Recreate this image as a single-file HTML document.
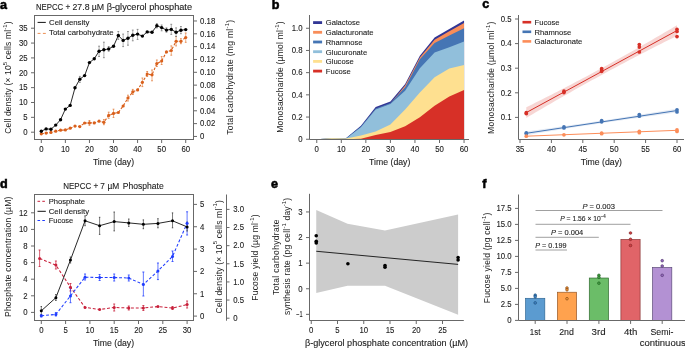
<!DOCTYPE html>
<html><head><meta charset="utf-8"><style>
html,body{margin:0;padding:0;background:#fff;width:685px;height:348px;overflow:hidden}
svg{display:block;will-change:transform}
text{font-family:"Liberation Sans",sans-serif;fill:#1c1c1c;stroke:#1c1c1c;stroke-width:0.1px}
text.pl{fill:#000;stroke:#000;stroke-width:0.55px}
text.vl{stroke:none}
</style></head><body>
<svg width="685" height="348" viewBox="0 0 685 348">
<rect width="685" height="348" fill="#fff"/>
<text x="-0.10" y="8.80" font-size="12.6" font-weight="bold" fill="#000" class="pl">a</text>
<text x="49.55" y="9.70" font-size="8.2" text-anchor="middle" textLength="27.30" lengthAdjust="spacingAndGlyphs">NEPCC</text>
<text x="68.00" y="9.70" font-size="8.2" text-anchor="middle">+</text>
<text x="81.00" y="9.70" font-size="8.2" text-anchor="middle" textLength="17.00" lengthAdjust="spacingAndGlyphs">27.8</text>
<text x="97.90" y="9.70" font-size="8.2" text-anchor="middle" textLength="12.40" lengthAdjust="spacingAndGlyphs">µM</text>
<text x="149.35" y="9.70" font-size="8.2" text-anchor="middle" textLength="85.30" lengthAdjust="spacingAndGlyphs">β-glycerol phosphate</text>
<rect x="34.5" y="15.5" width="159.0" height="124.0" fill="none" stroke="#686868" stroke-width="1.0"/>
<line x1="31.00" y1="132.20" x2="34.50" y2="132.20" stroke="#686868" stroke-width="1.0"/>
<text x="27.60" y="135.01" font-size="8.2" text-anchor="end" textLength="4.34" lengthAdjust="spacingAndGlyphs">0</text>
<line x1="31.00" y1="117.34" x2="34.50" y2="117.34" stroke="#686868" stroke-width="1.0"/>
<text x="27.60" y="120.15" font-size="8.2" text-anchor="end" textLength="4.34" lengthAdjust="spacingAndGlyphs">5</text>
<line x1="31.00" y1="102.49" x2="34.50" y2="102.49" stroke="#686868" stroke-width="1.0"/>
<text x="27.60" y="105.30" font-size="8.2" text-anchor="end" textLength="8.68" lengthAdjust="spacingAndGlyphs">10</text>
<line x1="31.00" y1="87.63" x2="34.50" y2="87.63" stroke="#686868" stroke-width="1.0"/>
<text x="27.60" y="90.44" font-size="8.2" text-anchor="end" textLength="8.68" lengthAdjust="spacingAndGlyphs">15</text>
<line x1="31.00" y1="72.78" x2="34.50" y2="72.78" stroke="#686868" stroke-width="1.0"/>
<text x="27.60" y="75.59" font-size="8.2" text-anchor="end" textLength="8.68" lengthAdjust="spacingAndGlyphs">20</text>
<line x1="31.00" y1="57.92" x2="34.50" y2="57.92" stroke="#686868" stroke-width="1.0"/>
<text x="27.60" y="60.73" font-size="8.2" text-anchor="end" textLength="8.68" lengthAdjust="spacingAndGlyphs">25</text>
<line x1="31.00" y1="43.07" x2="34.50" y2="43.07" stroke="#686868" stroke-width="1.0"/>
<text x="27.60" y="45.88" font-size="8.2" text-anchor="end" textLength="8.68" lengthAdjust="spacingAndGlyphs">30</text>
<line x1="31.00" y1="28.21" x2="34.50" y2="28.21" stroke="#686868" stroke-width="1.0"/>
<text x="27.60" y="31.02" font-size="8.2" text-anchor="end" textLength="8.68" lengthAdjust="spacingAndGlyphs">35</text>
<line x1="193.50" y1="136.45" x2="197.00" y2="136.45" stroke="#686868" stroke-width="1.0"/>
<text x="200.10" y="139.26" font-size="8.2" textLength="4.34" lengthAdjust="spacingAndGlyphs">0</text>
<line x1="193.50" y1="123.62" x2="197.00" y2="123.62" stroke="#686868" stroke-width="1.0"/>
<text x="200.10" y="126.43" font-size="8.2" textLength="15.18" lengthAdjust="spacingAndGlyphs">0.02</text>
<line x1="193.50" y1="110.79" x2="197.00" y2="110.79" stroke="#686868" stroke-width="1.0"/>
<text x="200.10" y="113.60" font-size="8.2" textLength="15.18" lengthAdjust="spacingAndGlyphs">0.04</text>
<line x1="193.50" y1="97.96" x2="197.00" y2="97.96" stroke="#686868" stroke-width="1.0"/>
<text x="200.10" y="100.77" font-size="8.2" textLength="15.18" lengthAdjust="spacingAndGlyphs">0.06</text>
<line x1="193.50" y1="85.13" x2="197.00" y2="85.13" stroke="#686868" stroke-width="1.0"/>
<text x="200.10" y="87.94" font-size="8.2" textLength="15.18" lengthAdjust="spacingAndGlyphs">0.08</text>
<line x1="193.50" y1="72.30" x2="197.00" y2="72.30" stroke="#686868" stroke-width="1.0"/>
<text x="200.10" y="75.11" font-size="8.2" textLength="15.18" lengthAdjust="spacingAndGlyphs">0.10</text>
<line x1="193.50" y1="59.47" x2="197.00" y2="59.47" stroke="#686868" stroke-width="1.0"/>
<text x="200.10" y="62.28" font-size="8.2" textLength="15.18" lengthAdjust="spacingAndGlyphs">0.12</text>
<line x1="193.50" y1="46.64" x2="197.00" y2="46.64" stroke="#686868" stroke-width="1.0"/>
<text x="200.10" y="49.45" font-size="8.2" textLength="15.18" lengthAdjust="spacingAndGlyphs">0.14</text>
<line x1="193.50" y1="33.81" x2="197.00" y2="33.81" stroke="#686868" stroke-width="1.0"/>
<text x="200.10" y="36.62" font-size="8.2" textLength="15.18" lengthAdjust="spacingAndGlyphs">0.16</text>
<line x1="193.50" y1="20.98" x2="197.00" y2="20.98" stroke="#686868" stroke-width="1.0"/>
<text x="200.10" y="23.79" font-size="8.2" textLength="15.18" lengthAdjust="spacingAndGlyphs">0.18</text>
<line x1="41.30" y1="139.50" x2="41.30" y2="143.00" stroke="#686868" stroke-width="1.0"/>
<text x="41.30" y="151.80" font-size="8.2" text-anchor="middle" textLength="4.34" lengthAdjust="spacingAndGlyphs">0</text>
<line x1="65.37" y1="139.50" x2="65.37" y2="143.00" stroke="#686868" stroke-width="1.0"/>
<text x="65.37" y="151.80" font-size="8.2" text-anchor="middle" textLength="8.68" lengthAdjust="spacingAndGlyphs">10</text>
<line x1="89.44" y1="139.50" x2="89.44" y2="143.00" stroke="#686868" stroke-width="1.0"/>
<text x="89.44" y="151.80" font-size="8.2" text-anchor="middle" textLength="8.68" lengthAdjust="spacingAndGlyphs">20</text>
<line x1="113.51" y1="139.50" x2="113.51" y2="143.00" stroke="#686868" stroke-width="1.0"/>
<text x="113.51" y="151.80" font-size="8.2" text-anchor="middle" textLength="8.68" lengthAdjust="spacingAndGlyphs">30</text>
<line x1="137.58" y1="139.50" x2="137.58" y2="143.00" stroke="#686868" stroke-width="1.0"/>
<text x="137.58" y="151.80" font-size="8.2" text-anchor="middle" textLength="8.68" lengthAdjust="spacingAndGlyphs">40</text>
<line x1="161.65" y1="139.50" x2="161.65" y2="143.00" stroke="#686868" stroke-width="1.0"/>
<text x="161.65" y="151.80" font-size="8.2" text-anchor="middle" textLength="8.68" lengthAdjust="spacingAndGlyphs">50</text>
<line x1="185.72" y1="139.50" x2="185.72" y2="143.00" stroke="#686868" stroke-width="1.0"/>
<text x="185.72" y="151.80" font-size="8.2" text-anchor="middle" textLength="8.68" lengthAdjust="spacingAndGlyphs">60</text>
<text x="113.50" y="164.60" font-size="8.5" text-anchor="middle" textLength="41.20" lengthAdjust="spacingAndGlyphs">Time (day)</text>
<text x="11.5" y="77.6" font-size="8.5" text-anchor="middle" class="vl" transform="rotate(-90 11.5 77.6)" textLength="112.3" lengthAdjust="spacing">Cell density (× 10<tspan font-size="6" dy="-4.2">5</tspan><tspan dy="4.2"> cells ml</tspan><tspan font-size="5.8" dy="-4.2">-1</tspan><tspan dy="4.2">)</tspan></text>
<text x="233.4" y="77.25" font-size="8.5" text-anchor="middle" class="vl" transform="rotate(-90 233.4 77.25)" textLength="114.9" lengthAdjust="spacing">Total carbohydrate (mg ml<tspan font-size="5.8" dy="-4.2">-1</tspan><tspan dy="4.2">)</tspan></text>
<line x1="37.60" y1="22.40" x2="45.80" y2="22.40" stroke="#111" stroke-width="1.0"/>
<text x="49.00" y="24.70" font-size="7.5" textLength="40.30" lengthAdjust="spacingAndGlyphs">Cell density</text>
<line x1="37.60" y1="33.40" x2="45.80" y2="33.40" stroke="#ec8e52" stroke-width="1.0" stroke-dasharray="2.9 2.4"/>
<text x="49.00" y="34.90" font-size="7.5" textLength="64.50" lengthAdjust="spacingAndGlyphs">Total carbohydrate</text>
<line x1="89.44" y1="120.50" x2="89.44" y2="125.30" stroke="#eb9a66" stroke-width="0.8"/>
<line x1="88.54" y1="120.50" x2="90.34" y2="120.50" stroke="#e07a3a" stroke-width="0.8"/>
<line x1="88.54" y1="125.30" x2="90.34" y2="125.30" stroke="#e07a3a" stroke-width="0.8"/>
<line x1="103.88" y1="119.60" x2="103.88" y2="124.70" stroke="#eb9a66" stroke-width="0.8"/>
<line x1="102.98" y1="119.60" x2="104.78" y2="119.60" stroke="#e07a3a" stroke-width="0.8"/>
<line x1="102.98" y1="124.70" x2="104.78" y2="124.70" stroke="#e07a3a" stroke-width="0.8"/>
<line x1="108.70" y1="112.20" x2="108.70" y2="118.30" stroke="#eb9a66" stroke-width="0.8"/>
<line x1="107.80" y1="112.20" x2="109.60" y2="112.20" stroke="#e07a3a" stroke-width="0.8"/>
<line x1="107.80" y1="118.30" x2="109.60" y2="118.30" stroke="#e07a3a" stroke-width="0.8"/>
<line x1="113.51" y1="109.20" x2="113.51" y2="117.40" stroke="#eb9a66" stroke-width="0.8"/>
<line x1="112.61" y1="109.20" x2="114.41" y2="109.20" stroke="#e07a3a" stroke-width="0.8"/>
<line x1="112.61" y1="117.40" x2="114.41" y2="117.40" stroke="#e07a3a" stroke-width="0.8"/>
<line x1="127.95" y1="95.20" x2="127.95" y2="101.00" stroke="#eb9a66" stroke-width="0.8"/>
<line x1="127.05" y1="95.20" x2="128.85" y2="95.20" stroke="#e07a3a" stroke-width="0.8"/>
<line x1="127.05" y1="101.00" x2="128.85" y2="101.00" stroke="#e07a3a" stroke-width="0.8"/>
<line x1="132.77" y1="89.40" x2="132.77" y2="94.50" stroke="#eb9a66" stroke-width="0.8"/>
<line x1="131.87" y1="89.40" x2="133.67" y2="89.40" stroke="#e07a3a" stroke-width="0.8"/>
<line x1="131.87" y1="94.50" x2="133.67" y2="94.50" stroke="#e07a3a" stroke-width="0.8"/>
<line x1="142.39" y1="78.00" x2="142.39" y2="86.60" stroke="#eb9a66" stroke-width="0.8"/>
<line x1="141.49" y1="78.00" x2="143.29" y2="78.00" stroke="#e07a3a" stroke-width="0.8"/>
<line x1="141.49" y1="86.60" x2="143.29" y2="86.60" stroke="#e07a3a" stroke-width="0.8"/>
<line x1="147.21" y1="71.50" x2="147.21" y2="76.50" stroke="#eb9a66" stroke-width="0.8"/>
<line x1="146.31" y1="71.50" x2="148.11" y2="71.50" stroke="#e07a3a" stroke-width="0.8"/>
<line x1="146.31" y1="76.50" x2="148.11" y2="76.50" stroke="#e07a3a" stroke-width="0.8"/>
<line x1="152.02" y1="70.00" x2="152.02" y2="80.80" stroke="#eb9a66" stroke-width="0.8"/>
<line x1="151.12" y1="70.00" x2="152.92" y2="70.00" stroke="#e07a3a" stroke-width="0.8"/>
<line x1="151.12" y1="80.80" x2="152.92" y2="80.80" stroke="#e07a3a" stroke-width="0.8"/>
<line x1="156.84" y1="60.00" x2="156.84" y2="66.50" stroke="#eb9a66" stroke-width="0.8"/>
<line x1="155.94" y1="60.00" x2="157.74" y2="60.00" stroke="#e07a3a" stroke-width="0.8"/>
<line x1="155.94" y1="66.50" x2="157.74" y2="66.50" stroke="#e07a3a" stroke-width="0.8"/>
<line x1="161.65" y1="56.60" x2="161.65" y2="64.50" stroke="#eb9a66" stroke-width="0.8"/>
<line x1="160.75" y1="56.60" x2="162.55" y2="56.60" stroke="#e07a3a" stroke-width="0.8"/>
<line x1="160.75" y1="64.50" x2="162.55" y2="64.50" stroke="#e07a3a" stroke-width="0.8"/>
<line x1="171.28" y1="45.90" x2="171.28" y2="55.20" stroke="#eb9a66" stroke-width="0.8"/>
<line x1="170.38" y1="45.90" x2="172.18" y2="45.90" stroke="#e07a3a" stroke-width="0.8"/>
<line x1="170.38" y1="55.20" x2="172.18" y2="55.20" stroke="#e07a3a" stroke-width="0.8"/>
<line x1="176.09" y1="36.50" x2="176.09" y2="45.90" stroke="#eb9a66" stroke-width="0.8"/>
<line x1="175.19" y1="36.50" x2="176.99" y2="36.50" stroke="#e07a3a" stroke-width="0.8"/>
<line x1="175.19" y1="45.90" x2="176.99" y2="45.90" stroke="#e07a3a" stroke-width="0.8"/>
<line x1="180.91" y1="38.70" x2="180.91" y2="43.70" stroke="#eb9a66" stroke-width="0.8"/>
<line x1="180.01" y1="38.70" x2="181.81" y2="38.70" stroke="#e07a3a" stroke-width="0.8"/>
<line x1="180.01" y1="43.70" x2="181.81" y2="43.70" stroke="#e07a3a" stroke-width="0.8"/>
<line x1="185.72" y1="33.00" x2="185.72" y2="42.30" stroke="#eb9a66" stroke-width="0.8"/>
<line x1="184.82" y1="33.00" x2="186.62" y2="33.00" stroke="#e07a3a" stroke-width="0.8"/>
<line x1="184.82" y1="42.30" x2="186.62" y2="42.30" stroke="#e07a3a" stroke-width="0.8"/>
<polyline points="41.30,133.80 46.11,133.10 50.93,132.40 55.74,131.20 60.56,130.20 65.37,129.90 70.18,128.20 75.00,126.10 79.81,126.60 84.63,123.00 89.44,122.90 94.25,122.90 99.07,121.20 103.88,122.30 108.70,115.40 113.51,113.40 118.32,112.50 123.14,106.00 127.95,98.00 132.77,91.90 137.58,89.90 142.39,82.30 147.21,74.10 152.02,74.80 156.84,63.60 161.65,61.00 166.46,51.90 171.28,50.50 176.09,41.30 180.91,41.30 185.72,37.50" fill="none" stroke="#d9601c" stroke-width="1.1" stroke-dasharray="2.6 1.6"/>
<circle cx="41.30" cy="133.80" r="1.6" fill="#d9601c"/>
<circle cx="46.11" cy="133.10" r="1.6" fill="#d9601c"/>
<circle cx="50.93" cy="132.40" r="1.6" fill="#d9601c"/>
<circle cx="55.74" cy="131.20" r="1.6" fill="#d9601c"/>
<circle cx="60.56" cy="130.20" r="1.6" fill="#d9601c"/>
<circle cx="65.37" cy="129.90" r="1.6" fill="#d9601c"/>
<circle cx="70.18" cy="128.20" r="1.6" fill="#d9601c"/>
<circle cx="75.00" cy="126.10" r="1.6" fill="#d9601c"/>
<circle cx="79.81" cy="126.60" r="1.6" fill="#d9601c"/>
<circle cx="84.63" cy="123.00" r="1.6" fill="#d9601c"/>
<circle cx="89.44" cy="122.90" r="1.6" fill="#d9601c"/>
<circle cx="94.25" cy="122.90" r="1.6" fill="#d9601c"/>
<circle cx="99.07" cy="121.20" r="1.6" fill="#d9601c"/>
<circle cx="103.88" cy="122.30" r="1.6" fill="#d9601c"/>
<circle cx="108.70" cy="115.40" r="1.6" fill="#d9601c"/>
<circle cx="113.51" cy="113.40" r="1.6" fill="#d9601c"/>
<circle cx="118.32" cy="112.50" r="1.6" fill="#d9601c"/>
<circle cx="123.14" cy="106.00" r="1.6" fill="#d9601c"/>
<circle cx="127.95" cy="98.00" r="1.6" fill="#d9601c"/>
<circle cx="132.77" cy="91.90" r="1.6" fill="#d9601c"/>
<circle cx="137.58" cy="89.90" r="1.6" fill="#d9601c"/>
<circle cx="142.39" cy="82.30" r="1.6" fill="#d9601c"/>
<circle cx="147.21" cy="74.10" r="1.6" fill="#d9601c"/>
<circle cx="152.02" cy="74.80" r="1.6" fill="#d9601c"/>
<circle cx="156.84" cy="63.60" r="1.6" fill="#d9601c"/>
<circle cx="161.65" cy="61.00" r="1.6" fill="#d9601c"/>
<circle cx="166.46" cy="51.90" r="1.6" fill="#d9601c"/>
<circle cx="171.28" cy="50.50" r="1.6" fill="#d9601c"/>
<circle cx="176.09" cy="41.30" r="1.6" fill="#d9601c"/>
<circle cx="180.91" cy="41.30" r="1.6" fill="#d9601c"/>
<circle cx="185.72" cy="37.50" r="1.6" fill="#d9601c"/>
<line x1="79.81" y1="76.40" x2="79.81" y2="82.40" stroke="#9a9a9a" stroke-width="0.8"/>
<line x1="78.91" y1="76.40" x2="80.71" y2="76.40" stroke="#777" stroke-width="0.8"/>
<line x1="78.91" y1="82.40" x2="80.71" y2="82.40" stroke="#777" stroke-width="0.8"/>
<line x1="99.07" y1="46.20" x2="99.07" y2="56.50" stroke="#9a9a9a" stroke-width="0.8"/>
<line x1="98.17" y1="46.20" x2="99.97" y2="46.20" stroke="#777" stroke-width="0.8"/>
<line x1="98.17" y1="56.50" x2="99.97" y2="56.50" stroke="#777" stroke-width="0.8"/>
<line x1="103.88" y1="42.20" x2="103.88" y2="57.70" stroke="#9a9a9a" stroke-width="0.8"/>
<line x1="102.98" y1="42.20" x2="104.78" y2="42.20" stroke="#777" stroke-width="0.8"/>
<line x1="102.98" y1="57.70" x2="104.78" y2="57.70" stroke="#777" stroke-width="0.8"/>
<line x1="108.70" y1="46.50" x2="108.70" y2="51.20" stroke="#9a9a9a" stroke-width="0.8"/>
<line x1="107.80" y1="46.50" x2="109.60" y2="46.50" stroke="#777" stroke-width="0.8"/>
<line x1="107.80" y1="51.20" x2="109.60" y2="51.20" stroke="#777" stroke-width="0.8"/>
<line x1="118.32" y1="31.50" x2="118.32" y2="39.40" stroke="#9a9a9a" stroke-width="0.8"/>
<line x1="117.42" y1="31.50" x2="119.22" y2="31.50" stroke="#777" stroke-width="0.8"/>
<line x1="117.42" y1="39.40" x2="119.22" y2="39.40" stroke="#777" stroke-width="0.8"/>
<line x1="123.14" y1="34.10" x2="123.14" y2="46.60" stroke="#9a9a9a" stroke-width="0.8"/>
<line x1="122.24" y1="34.10" x2="124.04" y2="34.10" stroke="#777" stroke-width="0.8"/>
<line x1="122.24" y1="46.60" x2="124.04" y2="46.60" stroke="#777" stroke-width="0.8"/>
<line x1="127.95" y1="31.50" x2="127.95" y2="45.20" stroke="#9a9a9a" stroke-width="0.8"/>
<line x1="127.05" y1="31.50" x2="128.85" y2="31.50" stroke="#777" stroke-width="0.8"/>
<line x1="127.05" y1="45.20" x2="128.85" y2="45.20" stroke="#777" stroke-width="0.8"/>
<line x1="132.77" y1="30.10" x2="132.77" y2="40.80" stroke="#9a9a9a" stroke-width="0.8"/>
<line x1="131.87" y1="30.10" x2="133.67" y2="30.10" stroke="#777" stroke-width="0.8"/>
<line x1="131.87" y1="40.80" x2="133.67" y2="40.80" stroke="#777" stroke-width="0.8"/>
<line x1="137.58" y1="29.40" x2="137.58" y2="39.40" stroke="#9a9a9a" stroke-width="0.8"/>
<line x1="136.68" y1="29.40" x2="138.48" y2="29.40" stroke="#777" stroke-width="0.8"/>
<line x1="136.68" y1="39.40" x2="138.48" y2="39.40" stroke="#777" stroke-width="0.8"/>
<line x1="156.84" y1="23.60" x2="156.84" y2="27.90" stroke="#9a9a9a" stroke-width="0.8"/>
<line x1="155.94" y1="23.60" x2="157.74" y2="23.60" stroke="#777" stroke-width="0.8"/>
<line x1="155.94" y1="27.90" x2="157.74" y2="27.90" stroke="#777" stroke-width="0.8"/>
<line x1="161.65" y1="25.00" x2="161.65" y2="30.80" stroke="#9a9a9a" stroke-width="0.8"/>
<line x1="160.75" y1="25.00" x2="162.55" y2="25.00" stroke="#777" stroke-width="0.8"/>
<line x1="160.75" y1="30.80" x2="162.55" y2="30.80" stroke="#777" stroke-width="0.8"/>
<line x1="166.46" y1="27.90" x2="166.46" y2="32.20" stroke="#9a9a9a" stroke-width="0.8"/>
<line x1="165.56" y1="27.90" x2="167.36" y2="27.90" stroke="#777" stroke-width="0.8"/>
<line x1="165.56" y1="32.20" x2="167.36" y2="32.20" stroke="#777" stroke-width="0.8"/>
<line x1="171.28" y1="24.30" x2="171.28" y2="34.40" stroke="#9a9a9a" stroke-width="0.8"/>
<line x1="170.38" y1="24.30" x2="172.18" y2="24.30" stroke="#777" stroke-width="0.8"/>
<line x1="170.38" y1="34.40" x2="172.18" y2="34.40" stroke="#777" stroke-width="0.8"/>
<line x1="176.09" y1="27.90" x2="176.09" y2="36.50" stroke="#9a9a9a" stroke-width="0.8"/>
<line x1="175.19" y1="27.90" x2="176.99" y2="27.90" stroke="#777" stroke-width="0.8"/>
<line x1="175.19" y1="36.50" x2="176.99" y2="36.50" stroke="#777" stroke-width="0.8"/>
<line x1="180.91" y1="26.50" x2="180.91" y2="33.70" stroke="#9a9a9a" stroke-width="0.8"/>
<line x1="180.01" y1="26.50" x2="181.81" y2="26.50" stroke="#777" stroke-width="0.8"/>
<line x1="180.01" y1="33.70" x2="181.81" y2="33.70" stroke="#777" stroke-width="0.8"/>
<polyline points="41.30,131.20 46.11,128.90 50.93,129.20 55.74,125.10 60.56,119.70 65.37,109.10 70.18,105.40 75.00,87.80 79.81,79.20 84.63,75.60 89.44,62.60 94.25,58.80 99.07,51.20 103.88,49.80 108.70,48.90 113.51,46.30 118.32,35.50 123.14,40.40 127.95,38.30 132.77,35.20 137.58,34.10 142.39,36.10 147.21,31.90 152.02,32.20 156.84,25.80 161.65,27.60 166.46,30.10 171.28,29.40 176.09,32.20 180.91,30.20 185.72,29.60" fill="none" stroke="#111" stroke-width="0.9"/>
<circle cx="41.30" cy="131.20" r="1.7" fill="#000"/>
<circle cx="46.11" cy="128.90" r="1.7" fill="#000"/>
<circle cx="50.93" cy="129.20" r="1.7" fill="#000"/>
<circle cx="55.74" cy="125.10" r="1.7" fill="#000"/>
<circle cx="60.56" cy="119.70" r="1.7" fill="#000"/>
<circle cx="65.37" cy="109.10" r="1.7" fill="#000"/>
<circle cx="70.18" cy="105.40" r="1.7" fill="#000"/>
<circle cx="75.00" cy="87.80" r="1.7" fill="#000"/>
<circle cx="79.81" cy="79.20" r="1.7" fill="#000"/>
<circle cx="84.63" cy="75.60" r="1.7" fill="#000"/>
<circle cx="89.44" cy="62.60" r="1.7" fill="#000"/>
<circle cx="94.25" cy="58.80" r="1.7" fill="#000"/>
<circle cx="99.07" cy="51.20" r="1.7" fill="#000"/>
<circle cx="103.88" cy="49.80" r="1.7" fill="#000"/>
<circle cx="108.70" cy="48.90" r="1.7" fill="#000"/>
<circle cx="113.51" cy="46.30" r="1.7" fill="#000"/>
<circle cx="118.32" cy="35.50" r="1.7" fill="#000"/>
<circle cx="123.14" cy="40.40" r="1.7" fill="#000"/>
<circle cx="127.95" cy="38.30" r="1.7" fill="#000"/>
<circle cx="132.77" cy="35.20" r="1.7" fill="#000"/>
<circle cx="137.58" cy="34.10" r="1.7" fill="#000"/>
<circle cx="142.39" cy="36.10" r="1.7" fill="#000"/>
<circle cx="147.21" cy="31.90" r="1.7" fill="#000"/>
<circle cx="152.02" cy="32.20" r="1.7" fill="#000"/>
<circle cx="156.84" cy="25.80" r="1.7" fill="#000"/>
<circle cx="161.65" cy="27.60" r="1.7" fill="#000"/>
<circle cx="166.46" cy="30.10" r="1.7" fill="#000"/>
<circle cx="171.28" cy="29.40" r="1.7" fill="#000"/>
<circle cx="176.09" cy="32.20" r="1.7" fill="#000"/>
<circle cx="180.91" cy="30.20" r="1.7" fill="#000"/>
<circle cx="185.72" cy="29.60" r="1.7" fill="#000"/>
<text x="271.70" y="8.80" font-size="12.6" font-weight="bold" fill="#000" class="pl">b</text>
<polygon points="316.75,139.25 331.48,138.20 346.21,138.00 360.94,125.80 375.67,107.10 390.40,101.60 405.13,84.00 419.86,55.70 434.59,37.50 449.32,29.00 464.05,20.50 464.05,139.25 449.32,139.25 434.59,139.25 419.86,139.25 405.13,139.25 390.40,139.25 375.67,139.25 360.94,139.25 346.21,139.25 331.48,139.25 316.75,139.25" fill="#313695"/>
<polygon points="316.75,139.25 331.48,138.80 346.21,138.90 360.94,127.20 375.67,109.10 390.40,103.50 405.13,85.60 419.86,57.60 434.59,39.70 449.32,31.20 464.05,22.90 464.05,139.25 449.32,139.25 434.59,139.25 419.86,139.25 405.13,139.25 390.40,139.25 375.67,139.25 360.94,139.25 346.21,139.25 331.48,139.25 316.75,139.25" fill="#f88d59"/>
<polygon points="316.75,139.25 331.48,138.20 346.21,138.30 360.94,126.60 375.67,108.50 390.40,102.90 405.13,87.20 419.86,59.30 434.59,43.10 449.32,35.60 464.05,28.20 464.05,139.25 449.32,139.25 434.59,139.25 419.86,139.25 405.13,139.25 390.40,139.25 375.67,139.25 360.94,139.25 346.21,139.25 331.48,139.25 316.75,139.25" fill="#4575b4"/>
<polygon points="316.75,139.25 331.48,138.20 346.21,138.40 360.94,127.20 375.67,109.50 390.40,103.90 405.13,90.80 419.86,68.20 434.59,52.60 449.32,47.30 464.05,41.60 464.05,139.25 449.32,139.25 434.59,139.25 419.86,139.25 405.13,139.25 390.40,139.25 375.67,139.25 360.94,139.25 346.21,139.25 331.48,139.25 316.75,139.25" fill="#91bfdb"/>
<polygon points="316.75,139.25 331.48,138.20 346.21,138.40 360.94,135.60 375.67,131.40 390.40,124.40 405.13,109.40 419.86,92.60 434.59,77.20 449.32,68.60 464.05,65.00 464.05,139.25 449.32,139.25 434.59,139.25 419.86,139.25 405.13,139.25 390.40,139.25 375.67,139.25 360.94,139.25 346.21,139.25 331.48,139.25 316.75,139.25" fill="#fee090"/>
<polygon points="316.75,139.25 331.48,139.25 346.21,139.25 360.94,138.70 375.67,135.00 390.40,132.00 405.13,126.30 419.86,117.30 434.59,105.80 449.32,96.60 464.05,89.90 464.05,139.25 449.32,139.25 434.59,139.25 419.86,139.25 405.13,139.25 390.40,139.25 375.67,139.25 360.94,139.25 346.21,139.25 331.48,139.25 316.75,139.25" fill="#d73027"/>
<line x1="309.50" y1="15.00" x2="309.50" y2="139.50" stroke="#686868" stroke-width="1.0"/>
<line x1="309.50" y1="139.50" x2="469.00" y2="139.50" stroke="#686868" stroke-width="1.0"/>
<line x1="306.00" y1="139.25" x2="309.50" y2="139.25" stroke="#686868" stroke-width="1.0"/>
<text x="302.60" y="142.06" font-size="8.2" text-anchor="end" textLength="4.34" lengthAdjust="spacingAndGlyphs">0</text>
<line x1="306.00" y1="117.05" x2="309.50" y2="117.05" stroke="#686868" stroke-width="1.0"/>
<text x="302.60" y="119.86" font-size="8.2" text-anchor="end" textLength="10.84" lengthAdjust="spacingAndGlyphs">0.2</text>
<line x1="306.00" y1="94.85" x2="309.50" y2="94.85" stroke="#686868" stroke-width="1.0"/>
<text x="302.60" y="97.66" font-size="8.2" text-anchor="end" textLength="10.84" lengthAdjust="spacingAndGlyphs">0.4</text>
<line x1="306.00" y1="72.65" x2="309.50" y2="72.65" stroke="#686868" stroke-width="1.0"/>
<text x="302.60" y="75.46" font-size="8.2" text-anchor="end" textLength="10.84" lengthAdjust="spacingAndGlyphs">0.6</text>
<line x1="306.00" y1="50.45" x2="309.50" y2="50.45" stroke="#686868" stroke-width="1.0"/>
<text x="302.60" y="53.26" font-size="8.2" text-anchor="end" textLength="10.84" lengthAdjust="spacingAndGlyphs">0.8</text>
<line x1="306.00" y1="28.25" x2="309.50" y2="28.25" stroke="#686868" stroke-width="1.0"/>
<text x="302.60" y="31.06" font-size="8.2" text-anchor="end" textLength="10.84" lengthAdjust="spacingAndGlyphs">1.0</text>
<line x1="316.75" y1="139.50" x2="316.75" y2="143.00" stroke="#686868" stroke-width="1.0"/>
<text x="316.75" y="152.00" font-size="8.2" text-anchor="middle" textLength="4.34" lengthAdjust="spacingAndGlyphs">0</text>
<line x1="341.30" y1="139.50" x2="341.30" y2="143.00" stroke="#686868" stroke-width="1.0"/>
<text x="341.30" y="152.00" font-size="8.2" text-anchor="middle" textLength="8.68" lengthAdjust="spacingAndGlyphs">10</text>
<line x1="365.85" y1="139.50" x2="365.85" y2="143.00" stroke="#686868" stroke-width="1.0"/>
<text x="365.85" y="152.00" font-size="8.2" text-anchor="middle" textLength="8.68" lengthAdjust="spacingAndGlyphs">20</text>
<line x1="390.40" y1="139.50" x2="390.40" y2="143.00" stroke="#686868" stroke-width="1.0"/>
<text x="390.40" y="152.00" font-size="8.2" text-anchor="middle" textLength="8.68" lengthAdjust="spacingAndGlyphs">30</text>
<line x1="414.95" y1="139.50" x2="414.95" y2="143.00" stroke="#686868" stroke-width="1.0"/>
<text x="414.95" y="152.00" font-size="8.2" text-anchor="middle" textLength="8.68" lengthAdjust="spacingAndGlyphs">40</text>
<line x1="439.50" y1="139.50" x2="439.50" y2="143.00" stroke="#686868" stroke-width="1.0"/>
<text x="439.50" y="152.00" font-size="8.2" text-anchor="middle" textLength="8.68" lengthAdjust="spacingAndGlyphs">50</text>
<line x1="464.05" y1="139.50" x2="464.05" y2="143.00" stroke="#686868" stroke-width="1.0"/>
<text x="464.05" y="152.00" font-size="8.2" text-anchor="middle" textLength="8.68" lengthAdjust="spacingAndGlyphs">60</text>
<text x="389.70" y="164.60" font-size="8.5" text-anchor="middle" textLength="41.20" lengthAdjust="spacingAndGlyphs">Time (day)</text>
<text x="283.2" y="77.05" font-size="8.5" text-anchor="middle" class="vl" transform="rotate(-90 283.2 77.05)" textLength="111.5" lengthAdjust="spacing">Monosaccharide (µmol ml<tspan font-size="5.8" dy="-4.2">-1</tspan><tspan dy="4.2">)</tspan></text>
<rect x="313.1" y="21.20" width="9.0" height="2.8" fill="#313695"/>
<text x="325.80" y="25.40" font-size="7.6">Galactose</text>
<rect x="313.1" y="30.90" width="9.0" height="2.8" fill="#f88d59"/>
<text x="325.80" y="35.10" font-size="7.6">Galacturonate</text>
<rect x="313.1" y="40.60" width="9.0" height="2.8" fill="#4575b4"/>
<text x="325.80" y="44.80" font-size="7.6">Rhamnose</text>
<rect x="313.1" y="50.30" width="9.0" height="2.8" fill="#91bfdb"/>
<text x="325.80" y="54.50" font-size="7.6">Glucuronate</text>
<rect x="313.1" y="60.00" width="9.0" height="2.8" fill="#fee090"/>
<text x="325.80" y="64.20" font-size="7.6">Glucose</text>
<rect x="313.1" y="69.70" width="9.0" height="2.8" fill="#d73027"/>
<text x="325.80" y="73.90" font-size="7.6">Fucose</text>
<text x="482.20" y="8.30" font-size="12.6" font-weight="bold" fill="#000" class="pl">c</text>
<line x1="518.50" y1="15.00" x2="518.50" y2="139.50" stroke="#686868" stroke-width="1.0"/>
<line x1="518.50" y1="139.50" x2="684.00" y2="139.50" stroke="#686868" stroke-width="1.0"/>
<line x1="515.00" y1="117.40" x2="518.50" y2="117.40" stroke="#686868" stroke-width="1.0"/>
<text x="511.60" y="120.21" font-size="8.2" text-anchor="end" textLength="10.84" lengthAdjust="spacingAndGlyphs">0.1</text>
<line x1="515.00" y1="92.80" x2="518.50" y2="92.80" stroke="#686868" stroke-width="1.0"/>
<text x="511.60" y="95.61" font-size="8.2" text-anchor="end" textLength="10.84" lengthAdjust="spacingAndGlyphs">0.2</text>
<line x1="515.00" y1="68.20" x2="518.50" y2="68.20" stroke="#686868" stroke-width="1.0"/>
<text x="511.60" y="71.01" font-size="8.2" text-anchor="end" textLength="10.84" lengthAdjust="spacingAndGlyphs">0.3</text>
<line x1="515.00" y1="43.60" x2="518.50" y2="43.60" stroke="#686868" stroke-width="1.0"/>
<text x="511.60" y="46.41" font-size="8.2" text-anchor="end" textLength="10.84" lengthAdjust="spacingAndGlyphs">0.4</text>
<line x1="515.00" y1="19.00" x2="518.50" y2="19.00" stroke="#686868" stroke-width="1.0"/>
<text x="511.60" y="21.81" font-size="8.2" text-anchor="end" textLength="10.84" lengthAdjust="spacingAndGlyphs">0.5</text>
<line x1="520.00" y1="139.50" x2="520.00" y2="143.00" stroke="#686868" stroke-width="1.0"/>
<text x="520.00" y="151.60" font-size="8.2" text-anchor="middle" textLength="8.68" lengthAdjust="spacingAndGlyphs">35</text>
<line x1="551.40" y1="139.50" x2="551.40" y2="143.00" stroke="#686868" stroke-width="1.0"/>
<text x="551.40" y="151.60" font-size="8.2" text-anchor="middle" textLength="8.68" lengthAdjust="spacingAndGlyphs">40</text>
<line x1="582.80" y1="139.50" x2="582.80" y2="143.00" stroke="#686868" stroke-width="1.0"/>
<text x="582.80" y="151.60" font-size="8.2" text-anchor="middle" textLength="8.68" lengthAdjust="spacingAndGlyphs">45</text>
<line x1="614.20" y1="139.50" x2="614.20" y2="143.00" stroke="#686868" stroke-width="1.0"/>
<text x="614.20" y="151.60" font-size="8.2" text-anchor="middle" textLength="8.68" lengthAdjust="spacingAndGlyphs">50</text>
<line x1="645.60" y1="139.50" x2="645.60" y2="143.00" stroke="#686868" stroke-width="1.0"/>
<text x="645.60" y="151.60" font-size="8.2" text-anchor="middle" textLength="8.68" lengthAdjust="spacingAndGlyphs">55</text>
<line x1="677.00" y1="139.50" x2="677.00" y2="143.00" stroke="#686868" stroke-width="1.0"/>
<text x="677.00" y="151.60" font-size="8.2" text-anchor="middle" textLength="8.68" lengthAdjust="spacingAndGlyphs">60</text>
<text x="601.30" y="164.60" font-size="8.5" text-anchor="middle" textLength="41.20" lengthAdjust="spacingAndGlyphs">Time (day)</text>
<text x="493.8" y="77.8" font-size="8.5" text-anchor="middle" class="vl" transform="rotate(-90 493.8 77.8)" textLength="112.2" lengthAdjust="spacing">Monosaccharide (µmol ml<tspan font-size="5.8" dy="-4.2">-1</tspan><tspan dy="4.2">)</tspan></text>
<polygon points="526.28,107.26 529.42,105.70 532.56,104.15 535.70,102.58 538.84,101.01 541.98,99.43 545.12,97.85 548.26,96.25 551.40,94.66 554.54,93.05 557.68,91.44 560.82,89.82 563.96,88.19 567.10,86.56 570.24,84.92 573.38,83.28 576.52,81.62 579.66,79.96 582.80,78.30 585.94,76.63 589.08,74.95 592.22,73.26 595.36,71.57 598.50,69.87 601.64,68.16 604.78,66.45 607.92,64.73 611.06,63.00 614.20,61.27 617.34,59.53 620.48,57.78 623.62,56.02 626.76,54.26 629.90,52.50 633.04,50.72 636.18,48.94 639.32,47.15 642.46,45.36 645.60,43.56 648.74,41.75 651.88,39.94 655.02,38.11 658.16,36.29 661.30,34.45 664.44,32.61 667.58,30.76 670.72,28.91 673.86,27.04 677.00,25.18 677.00,35.86 673.86,37.42 670.72,38.97 667.58,40.54 664.44,42.11 661.30,43.69 658.16,45.27 655.02,46.87 651.88,48.46 648.74,50.07 645.60,51.68 642.46,53.30 639.32,54.93 636.18,56.56 633.04,58.20 629.90,59.84 626.76,61.50 623.62,63.16 620.48,64.82 617.34,66.49 614.20,68.17 611.06,69.86 607.92,71.55 604.78,73.25 601.64,74.96 598.50,76.67 595.36,78.39 592.22,80.12 589.08,81.85 585.94,83.59 582.80,85.34 579.66,87.10 576.52,88.86 573.38,90.62 570.24,92.40 567.10,94.18 563.96,95.97 560.82,97.76 557.68,99.56 554.54,101.37 551.40,103.18 548.26,105.01 545.12,106.83 541.98,108.67 538.84,110.51 535.70,112.36 532.56,114.21 529.42,116.08 526.28,117.94" fill="#d73027" fill-opacity="0.2"/>
<polygon points="526.28,131.42 529.42,131.00 532.56,130.57 535.70,130.14 538.84,129.70 541.98,129.27 545.12,128.83 548.26,128.39 551.40,127.95 554.54,127.51 557.68,127.06 560.82,126.62 563.96,126.17 567.10,125.72 570.24,125.26 573.38,124.81 576.52,124.35 579.66,123.89 582.80,123.43 585.94,122.97 589.08,122.50 592.22,122.04 595.36,121.57 598.50,121.10 601.64,120.62 604.78,120.15 607.92,119.67 611.06,119.19 614.20,118.71 617.34,118.23 620.48,117.74 623.62,117.26 626.76,116.77 629.90,116.28 633.04,115.78 636.18,115.29 639.32,114.79 642.46,114.29 645.60,113.79 648.74,113.29 651.88,112.78 655.02,112.28 658.16,111.77 661.30,111.26 664.44,110.74 667.58,110.23 670.72,109.71 673.86,109.19 677.00,108.67 677.00,112.42 673.86,112.85 670.72,113.28 667.58,113.71 664.44,114.14 661.30,114.58 658.16,115.02 655.02,115.46 651.88,115.90 648.74,116.34 645.60,116.78 642.46,117.23 639.32,117.68 636.18,118.13 633.04,118.58 629.90,119.04 626.76,119.50 623.62,119.96 620.48,120.42 617.34,120.88 614.20,121.34 611.06,121.81 607.92,122.28 604.78,122.75 601.64,123.22 598.50,123.70 595.36,124.18 592.22,124.66 589.08,125.14 585.94,125.62 582.80,126.10 579.66,126.59 576.52,127.08 573.38,127.57 570.24,128.06 567.10,128.56 563.96,129.06 560.82,129.56 557.68,130.06 554.54,130.56 551.40,131.06 548.26,131.57 545.12,132.08 541.98,132.59 538.84,133.10 535.70,133.62 532.56,134.14 529.42,134.66 526.28,135.18" fill="#4575b4" fill-opacity="0.15"/>
<line x1="526.28" y1="112.60" x2="677.00" y2="30.52" stroke="#d73027" stroke-width="1.0"/>
<line x1="526.28" y1="133.30" x2="677.00" y2="110.55" stroke="#4575b4" stroke-width="1.0"/>
<line x1="526.28" y1="136.20" x2="677.00" y2="130.32" stroke="#fc8d59" stroke-width="1.0"/>
<circle cx="526.28" cy="112.70" r="1.85" fill="#d73027"/>
<circle cx="526.28" cy="113.60" r="1.85" fill="#d73027"/>
<circle cx="563.96" cy="91.20" r="1.85" fill="#d73027"/>
<circle cx="563.96" cy="92.60" r="1.85" fill="#d73027"/>
<circle cx="601.64" cy="68.60" r="1.85" fill="#d73027"/>
<circle cx="601.64" cy="70.00" r="1.85" fill="#d73027"/>
<circle cx="601.64" cy="71.30" r="1.85" fill="#d73027"/>
<circle cx="639.32" cy="44.60" r="1.85" fill="#d73027"/>
<circle cx="639.32" cy="47.10" r="1.85" fill="#d73027"/>
<circle cx="639.32" cy="52.00" r="1.85" fill="#d73027"/>
<circle cx="677.00" cy="29.30" r="1.85" fill="#d73027"/>
<circle cx="677.00" cy="31.50" r="1.85" fill="#d73027"/>
<circle cx="677.00" cy="36.60" r="1.85" fill="#d73027"/>
<circle cx="526.28" cy="132.90" r="1.85" fill="#4575b4"/>
<circle cx="526.28" cy="133.60" r="1.85" fill="#4575b4"/>
<circle cx="563.96" cy="126.90" r="1.85" fill="#4575b4"/>
<circle cx="563.96" cy="128.00" r="1.85" fill="#4575b4"/>
<circle cx="601.64" cy="120.60" r="1.85" fill="#4575b4"/>
<circle cx="601.64" cy="121.80" r="1.85" fill="#4575b4"/>
<circle cx="639.32" cy="114.50" r="1.85" fill="#4575b4"/>
<circle cx="639.32" cy="116.20" r="1.85" fill="#4575b4"/>
<circle cx="677.00" cy="109.80" r="1.85" fill="#4575b4"/>
<circle cx="677.00" cy="111.90" r="1.85" fill="#4575b4"/>
<circle cx="526.28" cy="136.20" r="1.85" fill="#fc8d59"/>
<circle cx="563.96" cy="134.80" r="1.85" fill="#fc8d59"/>
<circle cx="601.64" cy="133.20" r="1.85" fill="#fc8d59"/>
<circle cx="601.64" cy="133.70" r="1.85" fill="#fc8d59"/>
<circle cx="639.32" cy="131.30" r="1.85" fill="#fc8d59"/>
<circle cx="639.32" cy="132.70" r="1.85" fill="#fc8d59"/>
<circle cx="677.00" cy="129.90" r="1.85" fill="#fc8d59"/>
<circle cx="677.00" cy="131.40" r="1.85" fill="#fc8d59"/>
<rect x="522.5" y="20.90" width="8.7" height="2.6" fill="#d73027"/>
<text x="534.60" y="25.00" font-size="7.6">Fucose</text>
<rect x="522.5" y="30.50" width="8.7" height="2.6" fill="#4575b4"/>
<text x="534.60" y="34.60" font-size="7.6">Rhamnose</text>
<rect x="522.5" y="40.10" width="8.7" height="2.6" fill="#fc8d59"/>
<text x="534.60" y="44.20" font-size="7.6">Galacturonate</text>
<text x="0.10" y="188.00" font-size="12.6" font-weight="bold" fill="#000" class="pl">d</text>
<text x="77.25" y="188.70" font-size="8.2" text-anchor="middle" textLength="27.90" lengthAdjust="spacingAndGlyphs">NEPCC</text>
<text x="95.90" y="188.70" font-size="8.2" text-anchor="middle">+</text>
<text x="102.60" y="188.70" font-size="8.2" text-anchor="middle">7</text>
<text x="113.30" y="188.70" font-size="8.2" text-anchor="middle" textLength="11.80" lengthAdjust="spacingAndGlyphs">µM</text>
<text x="143.25" y="188.70" font-size="8.2" text-anchor="middle" textLength="41.00" lengthAdjust="spacingAndGlyphs">Phosphate</text>
<rect x="34.5" y="194.5" width="159.0" height="126.0" fill="none" stroke="#686868" stroke-width="1.0"/>
<line x1="31.00" y1="312.40" x2="34.50" y2="312.40" stroke="#686868" stroke-width="1.0"/>
<text x="27.60" y="315.21" font-size="8.2" text-anchor="end" textLength="4.34" lengthAdjust="spacingAndGlyphs">0</text>
<line x1="31.00" y1="295.80" x2="34.50" y2="295.80" stroke="#686868" stroke-width="1.0"/>
<text x="27.60" y="298.61" font-size="8.2" text-anchor="end" textLength="4.34" lengthAdjust="spacingAndGlyphs">2</text>
<line x1="31.00" y1="279.20" x2="34.50" y2="279.20" stroke="#686868" stroke-width="1.0"/>
<text x="27.60" y="282.01" font-size="8.2" text-anchor="end" textLength="4.34" lengthAdjust="spacingAndGlyphs">4</text>
<line x1="31.00" y1="262.60" x2="34.50" y2="262.60" stroke="#686868" stroke-width="1.0"/>
<text x="27.60" y="265.41" font-size="8.2" text-anchor="end" textLength="4.34" lengthAdjust="spacingAndGlyphs">6</text>
<line x1="31.00" y1="246.00" x2="34.50" y2="246.00" stroke="#686868" stroke-width="1.0"/>
<text x="27.60" y="248.81" font-size="8.2" text-anchor="end" textLength="4.34" lengthAdjust="spacingAndGlyphs">8</text>
<line x1="31.00" y1="229.40" x2="34.50" y2="229.40" stroke="#686868" stroke-width="1.0"/>
<text x="27.60" y="232.21" font-size="8.2" text-anchor="end" textLength="8.68" lengthAdjust="spacingAndGlyphs">10</text>
<line x1="31.00" y1="212.80" x2="34.50" y2="212.80" stroke="#686868" stroke-width="1.0"/>
<text x="27.60" y="215.61" font-size="8.2" text-anchor="end" textLength="8.68" lengthAdjust="spacingAndGlyphs">12</text>
<line x1="193.50" y1="316.10" x2="197.00" y2="316.10" stroke="#686868" stroke-width="1.0"/>
<text x="200.10" y="318.91" font-size="8.2" textLength="4.34" lengthAdjust="spacingAndGlyphs">0</text>
<line x1="193.50" y1="293.76" x2="197.00" y2="293.76" stroke="#686868" stroke-width="1.0"/>
<text x="200.10" y="296.57" font-size="8.2" textLength="4.34" lengthAdjust="spacingAndGlyphs">1</text>
<line x1="193.50" y1="271.42" x2="197.00" y2="271.42" stroke="#686868" stroke-width="1.0"/>
<text x="200.10" y="274.23" font-size="8.2" textLength="4.34" lengthAdjust="spacingAndGlyphs">2</text>
<line x1="193.50" y1="249.08" x2="197.00" y2="249.08" stroke="#686868" stroke-width="1.0"/>
<text x="200.10" y="251.89" font-size="8.2" textLength="4.34" lengthAdjust="spacingAndGlyphs">3</text>
<line x1="193.50" y1="226.74" x2="197.00" y2="226.74" stroke="#686868" stroke-width="1.0"/>
<text x="200.10" y="229.55" font-size="8.2" textLength="4.34" lengthAdjust="spacingAndGlyphs">4</text>
<line x1="193.50" y1="204.40" x2="197.00" y2="204.40" stroke="#686868" stroke-width="1.0"/>
<text x="200.10" y="207.21" font-size="8.2" textLength="4.34" lengthAdjust="spacingAndGlyphs">5</text>
<line x1="226.50" y1="194.50" x2="226.50" y2="320.70" stroke="#686868" stroke-width="1.0"/>
<line x1="226.50" y1="318.20" x2="229.50" y2="318.20" stroke="#686868" stroke-width="1.0"/>
<text x="233.20" y="321.01" font-size="8.2" textLength="4.34" lengthAdjust="spacingAndGlyphs">0</text>
<line x1="226.50" y1="300.06" x2="229.50" y2="300.06" stroke="#686868" stroke-width="1.0"/>
<text x="233.20" y="302.87" font-size="8.2" textLength="10.84" lengthAdjust="spacingAndGlyphs">0.5</text>
<line x1="226.50" y1="281.93" x2="229.50" y2="281.93" stroke="#686868" stroke-width="1.0"/>
<text x="233.20" y="284.74" font-size="8.2" textLength="10.84" lengthAdjust="spacingAndGlyphs">1.0</text>
<line x1="226.50" y1="263.79" x2="229.50" y2="263.79" stroke="#686868" stroke-width="1.0"/>
<text x="233.20" y="266.60" font-size="8.2" textLength="10.84" lengthAdjust="spacingAndGlyphs">1.5</text>
<line x1="226.50" y1="245.66" x2="229.50" y2="245.66" stroke="#686868" stroke-width="1.0"/>
<text x="233.20" y="248.47" font-size="8.2" textLength="10.84" lengthAdjust="spacingAndGlyphs">2.0</text>
<line x1="226.50" y1="227.52" x2="229.50" y2="227.52" stroke="#686868" stroke-width="1.0"/>
<text x="233.20" y="230.33" font-size="8.2" textLength="10.84" lengthAdjust="spacingAndGlyphs">2.5</text>
<line x1="226.50" y1="209.39" x2="229.50" y2="209.39" stroke="#686868" stroke-width="1.0"/>
<text x="233.20" y="212.20" font-size="8.2" textLength="10.84" lengthAdjust="spacingAndGlyphs">3.0</text>
<line x1="41.30" y1="320.50" x2="41.30" y2="324.00" stroke="#686868" stroke-width="1.0"/>
<text x="41.30" y="333.00" font-size="8.2" text-anchor="middle" textLength="4.34" lengthAdjust="spacingAndGlyphs">0</text>
<line x1="65.60" y1="320.50" x2="65.60" y2="324.00" stroke="#686868" stroke-width="1.0"/>
<text x="65.60" y="333.00" font-size="8.2" text-anchor="middle" textLength="4.34" lengthAdjust="spacingAndGlyphs">5</text>
<line x1="89.90" y1="320.50" x2="89.90" y2="324.00" stroke="#686868" stroke-width="1.0"/>
<text x="89.90" y="333.00" font-size="8.2" text-anchor="middle" textLength="8.68" lengthAdjust="spacingAndGlyphs">10</text>
<line x1="114.20" y1="320.50" x2="114.20" y2="324.00" stroke="#686868" stroke-width="1.0"/>
<text x="114.20" y="333.00" font-size="8.2" text-anchor="middle" textLength="8.68" lengthAdjust="spacingAndGlyphs">15</text>
<line x1="138.50" y1="320.50" x2="138.50" y2="324.00" stroke="#686868" stroke-width="1.0"/>
<text x="138.50" y="333.00" font-size="8.2" text-anchor="middle" textLength="8.68" lengthAdjust="spacingAndGlyphs">20</text>
<line x1="162.80" y1="320.50" x2="162.80" y2="324.00" stroke="#686868" stroke-width="1.0"/>
<text x="162.80" y="333.00" font-size="8.2" text-anchor="middle" textLength="8.68" lengthAdjust="spacingAndGlyphs">25</text>
<line x1="187.10" y1="320.50" x2="187.10" y2="324.00" stroke="#686868" stroke-width="1.0"/>
<text x="187.10" y="333.00" font-size="8.2" text-anchor="middle" textLength="8.68" lengthAdjust="spacingAndGlyphs">30</text>
<text x="113.50" y="346.00" font-size="8.5" text-anchor="middle" textLength="41.20" lengthAdjust="spacingAndGlyphs">Time (day)</text>
<text x="11.5" y="256.85" font-size="8.5" text-anchor="middle" class="vl" transform="rotate(-90 11.5 256.85)" textLength="120.3" lengthAdjust="spacing">Phosphate concentration (µM)</text>
<text x="221.6" y="256.8" font-size="8.5" text-anchor="middle" class="vl" transform="rotate(-90 221.6 256.8)" textLength="113.2" lengthAdjust="spacing">Cell density (× 10<tspan font-size="6" dy="-4.2">5</tspan><tspan dy="4.2"> cells ml</tspan><tspan font-size="5.8" dy="-4.2">-1</tspan><tspan dy="4.2">)</tspan></text>
<text x="258.0" y="257.6" font-size="8.5" text-anchor="middle" class="vl" transform="rotate(-90 258.0 257.6)" textLength="86.2" lengthAdjust="spacing">Fucose yield (µg ml<tspan font-size="5.8" dy="-4.2">-1</tspan><tspan dy="4.2">)</tspan></text>
<line x1="37.50" y1="201.30" x2="45.80" y2="201.30" stroke="#c8203a" stroke-width="1.0" stroke-dasharray="2.6 2.2"/>
<text x="48.70" y="203.60" font-size="7.5" textLength="36.40" lengthAdjust="spacingAndGlyphs">Phosphate</text>
<line x1="37.50" y1="211.30" x2="45.80" y2="211.30" stroke="#111" stroke-width="1.0"/>
<text x="48.70" y="213.60" font-size="7.5" textLength="40.40" lengthAdjust="spacingAndGlyphs">Cell density</text>
<line x1="37.50" y1="220.50" x2="45.80" y2="220.50" stroke="#1f3cff" stroke-width="1.0" stroke-dasharray="2.6 2.2"/>
<text x="48.70" y="222.80" font-size="7.5" textLength="24.60" lengthAdjust="spacingAndGlyphs">Fucose</text>
<line x1="39.60" y1="250.00" x2="39.60" y2="266.50" stroke="#c8203a" stroke-width="0.7"/>
<line x1="38.60" y1="250.00" x2="40.60" y2="250.00" stroke="#c8203a" stroke-width="0.8"/>
<line x1="38.60" y1="266.50" x2="40.60" y2="266.50" stroke="#c8203a" stroke-width="0.8"/>
<line x1="55.88" y1="261.00" x2="55.88" y2="269.00" stroke="#c8203a" stroke-width="0.7"/>
<line x1="54.88" y1="261.00" x2="56.88" y2="261.00" stroke="#c8203a" stroke-width="0.8"/>
<line x1="54.88" y1="269.00" x2="56.88" y2="269.00" stroke="#c8203a" stroke-width="0.8"/>
<line x1="70.46" y1="283.50" x2="70.46" y2="291.00" stroke="#c8203a" stroke-width="0.7"/>
<line x1="69.46" y1="283.50" x2="71.46" y2="283.50" stroke="#c8203a" stroke-width="0.8"/>
<line x1="69.46" y1="291.00" x2="71.46" y2="291.00" stroke="#c8203a" stroke-width="0.8"/>
<line x1="114.20" y1="304.00" x2="114.20" y2="311.00" stroke="#c8203a" stroke-width="0.7"/>
<line x1="113.20" y1="304.00" x2="115.20" y2="304.00" stroke="#c8203a" stroke-width="0.8"/>
<line x1="113.20" y1="311.00" x2="115.20" y2="311.00" stroke="#c8203a" stroke-width="0.8"/>
<line x1="128.78" y1="306.00" x2="128.78" y2="310.00" stroke="#c8203a" stroke-width="0.7"/>
<line x1="127.78" y1="306.00" x2="129.78" y2="306.00" stroke="#c8203a" stroke-width="0.8"/>
<line x1="127.78" y1="310.00" x2="129.78" y2="310.00" stroke="#c8203a" stroke-width="0.8"/>
<line x1="143.36" y1="305.50" x2="143.36" y2="310.50" stroke="#c8203a" stroke-width="0.7"/>
<line x1="142.36" y1="305.50" x2="144.36" y2="305.50" stroke="#c8203a" stroke-width="0.8"/>
<line x1="142.36" y1="310.50" x2="144.36" y2="310.50" stroke="#c8203a" stroke-width="0.8"/>
<line x1="172.52" y1="306.50" x2="172.52" y2="309.50" stroke="#c8203a" stroke-width="0.7"/>
<line x1="171.52" y1="306.50" x2="173.52" y2="306.50" stroke="#c8203a" stroke-width="0.8"/>
<line x1="171.52" y1="309.50" x2="173.52" y2="309.50" stroke="#c8203a" stroke-width="0.8"/>
<line x1="187.10" y1="301.00" x2="187.10" y2="308.00" stroke="#c8203a" stroke-width="0.7"/>
<line x1="186.10" y1="301.00" x2="188.10" y2="301.00" stroke="#c8203a" stroke-width="0.8"/>
<line x1="186.10" y1="308.00" x2="188.10" y2="308.00" stroke="#c8203a" stroke-width="0.8"/>
<line x1="41.30" y1="314.50" x2="41.30" y2="317.00" stroke="#1f3cff" stroke-width="0.7"/>
<line x1="40.30" y1="314.50" x2="42.30" y2="314.50" stroke="#1f3cff" stroke-width="0.8"/>
<line x1="40.30" y1="317.00" x2="42.30" y2="317.00" stroke="#1f3cff" stroke-width="0.8"/>
<line x1="55.88" y1="312.50" x2="55.88" y2="316.00" stroke="#1f3cff" stroke-width="0.7"/>
<line x1="54.88" y1="312.50" x2="56.88" y2="312.50" stroke="#1f3cff" stroke-width="0.8"/>
<line x1="54.88" y1="316.00" x2="56.88" y2="316.00" stroke="#1f3cff" stroke-width="0.8"/>
<line x1="70.46" y1="288.30" x2="70.46" y2="302.70" stroke="#1f3cff" stroke-width="0.7"/>
<line x1="69.46" y1="288.30" x2="71.46" y2="288.30" stroke="#1f3cff" stroke-width="0.8"/>
<line x1="69.46" y1="302.70" x2="71.46" y2="302.70" stroke="#1f3cff" stroke-width="0.8"/>
<line x1="85.04" y1="274.00" x2="85.04" y2="280.00" stroke="#1f3cff" stroke-width="0.7"/>
<line x1="84.04" y1="274.00" x2="86.04" y2="274.00" stroke="#1f3cff" stroke-width="0.8"/>
<line x1="84.04" y1="280.00" x2="86.04" y2="280.00" stroke="#1f3cff" stroke-width="0.8"/>
<line x1="99.62" y1="274.50" x2="99.62" y2="280.50" stroke="#1f3cff" stroke-width="0.7"/>
<line x1="98.62" y1="274.50" x2="100.62" y2="274.50" stroke="#1f3cff" stroke-width="0.8"/>
<line x1="98.62" y1="280.50" x2="100.62" y2="280.50" stroke="#1f3cff" stroke-width="0.8"/>
<line x1="114.20" y1="274.00" x2="114.20" y2="281.00" stroke="#1f3cff" stroke-width="0.7"/>
<line x1="113.20" y1="274.00" x2="115.20" y2="274.00" stroke="#1f3cff" stroke-width="0.8"/>
<line x1="113.20" y1="281.00" x2="115.20" y2="281.00" stroke="#1f3cff" stroke-width="0.8"/>
<line x1="128.78" y1="275.00" x2="128.78" y2="281.00" stroke="#1f3cff" stroke-width="0.7"/>
<line x1="127.78" y1="275.00" x2="129.78" y2="275.00" stroke="#1f3cff" stroke-width="0.8"/>
<line x1="127.78" y1="281.00" x2="129.78" y2="281.00" stroke="#1f3cff" stroke-width="0.8"/>
<line x1="143.36" y1="272.00" x2="143.36" y2="296.00" stroke="#1f3cff" stroke-width="0.7"/>
<line x1="142.36" y1="272.00" x2="144.36" y2="272.00" stroke="#1f3cff" stroke-width="0.8"/>
<line x1="142.36" y1="296.00" x2="144.36" y2="296.00" stroke="#1f3cff" stroke-width="0.8"/>
<line x1="157.94" y1="263.00" x2="157.94" y2="279.60" stroke="#1f3cff" stroke-width="0.7"/>
<line x1="156.94" y1="263.00" x2="158.94" y2="263.00" stroke="#1f3cff" stroke-width="0.8"/>
<line x1="156.94" y1="279.60" x2="158.94" y2="279.60" stroke="#1f3cff" stroke-width="0.8"/>
<line x1="172.52" y1="251.00" x2="172.52" y2="261.50" stroke="#1f3cff" stroke-width="0.7"/>
<line x1="171.52" y1="251.00" x2="173.52" y2="251.00" stroke="#1f3cff" stroke-width="0.8"/>
<line x1="171.52" y1="261.50" x2="173.52" y2="261.50" stroke="#1f3cff" stroke-width="0.8"/>
<line x1="187.10" y1="211.80" x2="187.10" y2="235.00" stroke="#1f3cff" stroke-width="0.7"/>
<line x1="186.10" y1="211.80" x2="188.10" y2="211.80" stroke="#1f3cff" stroke-width="0.8"/>
<line x1="186.10" y1="235.00" x2="188.10" y2="235.00" stroke="#1f3cff" stroke-width="0.8"/>
<line x1="41.30" y1="306.50" x2="41.30" y2="315.00" stroke="#333" stroke-width="0.65"/>
<line x1="40.60" y1="306.50" x2="42.00" y2="306.50" stroke="#333" stroke-width="0.8"/>
<line x1="40.60" y1="315.00" x2="42.00" y2="315.00" stroke="#333" stroke-width="0.8"/>
<line x1="55.88" y1="294.50" x2="55.88" y2="300.50" stroke="#333" stroke-width="0.65"/>
<line x1="55.18" y1="294.50" x2="56.58" y2="294.50" stroke="#333" stroke-width="0.8"/>
<line x1="55.18" y1="300.50" x2="56.58" y2="300.50" stroke="#333" stroke-width="0.8"/>
<line x1="70.46" y1="257.00" x2="70.46" y2="263.00" stroke="#333" stroke-width="0.65"/>
<line x1="69.76" y1="257.00" x2="71.16" y2="257.00" stroke="#333" stroke-width="0.8"/>
<line x1="69.76" y1="263.00" x2="71.16" y2="263.00" stroke="#333" stroke-width="0.8"/>
<line x1="85.04" y1="215.90" x2="85.04" y2="225.70" stroke="#333" stroke-width="0.65"/>
<line x1="84.34" y1="215.90" x2="85.74" y2="215.90" stroke="#333" stroke-width="0.8"/>
<line x1="84.34" y1="225.70" x2="85.74" y2="225.70" stroke="#333" stroke-width="0.8"/>
<line x1="99.62" y1="217.30" x2="99.62" y2="234.40" stroke="#333" stroke-width="0.65"/>
<line x1="98.92" y1="217.30" x2="100.32" y2="217.30" stroke="#333" stroke-width="0.8"/>
<line x1="98.92" y1="234.40" x2="100.32" y2="234.40" stroke="#333" stroke-width="0.8"/>
<line x1="114.20" y1="212.00" x2="114.20" y2="230.90" stroke="#333" stroke-width="0.65"/>
<line x1="113.50" y1="212.00" x2="114.90" y2="212.00" stroke="#333" stroke-width="0.8"/>
<line x1="113.50" y1="230.90" x2="114.90" y2="230.90" stroke="#333" stroke-width="0.8"/>
<line x1="128.78" y1="219.00" x2="128.78" y2="226.40" stroke="#333" stroke-width="0.65"/>
<line x1="128.08" y1="219.00" x2="129.48" y2="219.00" stroke="#333" stroke-width="0.8"/>
<line x1="128.08" y1="226.40" x2="129.48" y2="226.40" stroke="#333" stroke-width="0.8"/>
<line x1="143.36" y1="219.90" x2="143.36" y2="228.70" stroke="#333" stroke-width="0.65"/>
<line x1="142.66" y1="219.90" x2="144.06" y2="219.90" stroke="#333" stroke-width="0.8"/>
<line x1="142.66" y1="228.70" x2="144.06" y2="228.70" stroke="#333" stroke-width="0.8"/>
<line x1="157.94" y1="218.70" x2="157.94" y2="227.80" stroke="#333" stroke-width="0.65"/>
<line x1="157.24" y1="218.70" x2="158.64" y2="218.70" stroke="#333" stroke-width="0.8"/>
<line x1="157.24" y1="227.80" x2="158.64" y2="227.80" stroke="#333" stroke-width="0.8"/>
<line x1="172.52" y1="212.90" x2="172.52" y2="227.80" stroke="#333" stroke-width="0.65"/>
<line x1="171.82" y1="212.90" x2="173.22" y2="212.90" stroke="#333" stroke-width="0.8"/>
<line x1="171.82" y1="227.80" x2="173.22" y2="227.80" stroke="#333" stroke-width="0.8"/>
<line x1="187.10" y1="222.00" x2="187.10" y2="231.00" stroke="#333" stroke-width="0.65"/>
<line x1="186.40" y1="222.00" x2="187.80" y2="222.00" stroke="#333" stroke-width="0.8"/>
<line x1="186.40" y1="231.00" x2="187.80" y2="231.00" stroke="#333" stroke-width="0.8"/>
<polyline points="39.60,258.50 55.88,265.10 70.46,287.20 85.04,307.40 99.62,309.50 114.20,307.50 128.78,308.00 143.36,308.00 157.94,306.60 172.52,308.00 187.10,304.60" fill="none" stroke="#c8203a" stroke-width="1.05" stroke-dasharray="2.9 1.9"/>
<polyline points="41.30,315.80 55.88,314.40 70.46,295.90 85.04,277.20 99.62,277.50 114.20,277.50 128.78,278.00 143.36,284.50 157.94,271.00 172.52,256.40 187.10,223.20" fill="none" stroke="#1f3cff" stroke-width="1.05" stroke-dasharray="2.9 1.9"/>
<polyline points="41.30,310.80 55.88,297.70 70.46,260.00 85.04,220.80 99.62,225.70 114.20,221.60 128.78,222.90 143.36,224.30 157.94,223.40 172.52,220.80 187.10,226.90" fill="none" stroke="#111" stroke-width="0.9"/>
<circle cx="39.60" cy="258.50" r="1.5" fill="#c8203a"/>
<circle cx="55.88" cy="265.10" r="1.5" fill="#c8203a"/>
<circle cx="70.46" cy="287.20" r="1.5" fill="#c8203a"/>
<circle cx="85.04" cy="307.40" r="1.5" fill="#c8203a"/>
<circle cx="99.62" cy="309.50" r="1.5" fill="#c8203a"/>
<circle cx="114.20" cy="307.50" r="1.5" fill="#c8203a"/>
<circle cx="128.78" cy="308.00" r="1.5" fill="#c8203a"/>
<circle cx="143.36" cy="308.00" r="1.5" fill="#c8203a"/>
<circle cx="157.94" cy="306.60" r="1.5" fill="#c8203a"/>
<circle cx="172.52" cy="308.00" r="1.5" fill="#c8203a"/>
<circle cx="187.10" cy="304.60" r="1.5" fill="#c8203a"/>
<circle cx="41.30" cy="315.80" r="1.5" fill="#1f3cff"/>
<circle cx="55.88" cy="314.40" r="1.5" fill="#1f3cff"/>
<circle cx="70.46" cy="295.90" r="1.5" fill="#1f3cff"/>
<circle cx="85.04" cy="277.20" r="1.5" fill="#1f3cff"/>
<circle cx="99.62" cy="277.50" r="1.5" fill="#1f3cff"/>
<circle cx="114.20" cy="277.50" r="1.5" fill="#1f3cff"/>
<circle cx="128.78" cy="278.00" r="1.5" fill="#1f3cff"/>
<circle cx="143.36" cy="284.50" r="1.5" fill="#1f3cff"/>
<circle cx="157.94" cy="271.00" r="1.5" fill="#1f3cff"/>
<circle cx="172.52" cy="256.40" r="1.5" fill="#1f3cff"/>
<circle cx="187.10" cy="223.20" r="1.5" fill="#1f3cff"/>
<circle cx="41.30" cy="310.80" r="1.5" fill="#000"/>
<circle cx="55.88" cy="297.70" r="1.5" fill="#000"/>
<circle cx="70.46" cy="260.00" r="1.5" fill="#000"/>
<circle cx="85.04" cy="220.80" r="1.5" fill="#000"/>
<circle cx="99.62" cy="225.70" r="1.5" fill="#000"/>
<circle cx="114.20" cy="221.60" r="1.5" fill="#000"/>
<circle cx="128.78" cy="222.90" r="1.5" fill="#000"/>
<circle cx="143.36" cy="224.30" r="1.5" fill="#000"/>
<circle cx="157.94" cy="223.40" r="1.5" fill="#000"/>
<circle cx="172.52" cy="220.80" r="1.5" fill="#000"/>
<circle cx="187.10" cy="226.90" r="1.5" fill="#000"/>
<text x="271.00" y="188.00" font-size="12.6" font-weight="bold" fill="#000" class="pl">e</text>
<polygon points="316.25,210.00 347.50,223.75 385.00,230.50 458.10,214.40 458.10,314.70 385.00,285.75 347.50,285.75 316.25,293.00" fill="#cccccc"/>
<line x1="316.25" y1="251.25" x2="458.10" y2="264.40" stroke="#111" stroke-width="0.9"/>
<circle cx="316.25" cy="235.80" r="1.8" fill="#000"/>
<circle cx="316.25" cy="241.20" r="1.8" fill="#000"/>
<circle cx="316.25" cy="242.90" r="1.8" fill="#000"/>
<circle cx="347.90" cy="263.80" r="1.8" fill="#000"/>
<circle cx="385.00" cy="265.60" r="1.8" fill="#000"/>
<circle cx="385.00" cy="267.30" r="1.8" fill="#000"/>
<circle cx="458.10" cy="257.50" r="1.8" fill="#000"/>
<circle cx="458.10" cy="260.00" r="1.8" fill="#000"/>
<line x1="309.50" y1="193.80" x2="309.50" y2="320.50" stroke="#686868" stroke-width="1.0"/>
<line x1="309.50" y1="320.50" x2="463.80" y2="320.50" stroke="#686868" stroke-width="1.0"/>
<line x1="306.00" y1="288.75" x2="309.50" y2="288.75" stroke="#686868" stroke-width="1.0"/>
<text x="302.60" y="291.56" font-size="8.2" text-anchor="end" textLength="4.34" lengthAdjust="spacingAndGlyphs">0</text>
<line x1="306.00" y1="263.15" x2="309.50" y2="263.15" stroke="#686868" stroke-width="1.0"/>
<text x="302.60" y="265.96" font-size="8.2" text-anchor="end" textLength="4.34" lengthAdjust="spacingAndGlyphs">1</text>
<line x1="306.00" y1="237.55" x2="309.50" y2="237.55" stroke="#686868" stroke-width="1.0"/>
<text x="302.60" y="240.36" font-size="8.2" text-anchor="end" textLength="4.34" lengthAdjust="spacingAndGlyphs">2</text>
<line x1="306.00" y1="211.95" x2="309.50" y2="211.95" stroke="#686868" stroke-width="1.0"/>
<text x="302.60" y="214.76" font-size="8.2" text-anchor="end" textLength="4.34" lengthAdjust="spacingAndGlyphs">3</text>
<line x1="306.00" y1="314.35" x2="309.50" y2="314.35" stroke="#686868" stroke-width="1.0"/>
<text x="302.60" y="317.16" font-size="8.2" text-anchor="end" textLength="6.40" lengthAdjust="spacingAndGlyphs">−1</text>
<line x1="311.25" y1="320.50" x2="311.25" y2="324.00" stroke="#686868" stroke-width="1.0"/>
<text x="311.25" y="333.00" font-size="8.2" text-anchor="middle" textLength="4.34" lengthAdjust="spacingAndGlyphs">0</text>
<line x1="337.50" y1="320.50" x2="337.50" y2="324.00" stroke="#686868" stroke-width="1.0"/>
<text x="337.50" y="333.00" font-size="8.2" text-anchor="middle" textLength="4.34" lengthAdjust="spacingAndGlyphs">5</text>
<line x1="363.75" y1="320.50" x2="363.75" y2="324.00" stroke="#686868" stroke-width="1.0"/>
<text x="363.75" y="333.00" font-size="8.2" text-anchor="middle" textLength="8.68" lengthAdjust="spacingAndGlyphs">10</text>
<line x1="390.00" y1="320.50" x2="390.00" y2="324.00" stroke="#686868" stroke-width="1.0"/>
<text x="390.00" y="333.00" font-size="8.2" text-anchor="middle" textLength="8.68" lengthAdjust="spacingAndGlyphs">15</text>
<line x1="416.25" y1="320.50" x2="416.25" y2="324.00" stroke="#686868" stroke-width="1.0"/>
<text x="416.25" y="333.00" font-size="8.2" text-anchor="middle" textLength="8.68" lengthAdjust="spacingAndGlyphs">20</text>
<line x1="442.50" y1="320.50" x2="442.50" y2="324.00" stroke="#686868" stroke-width="1.0"/>
<text x="442.50" y="333.00" font-size="8.2" text-anchor="middle" textLength="8.68" lengthAdjust="spacingAndGlyphs">25</text>
<text x="386.50" y="346.00" font-size="8.5" text-anchor="middle" textLength="163.00" lengthAdjust="spacingAndGlyphs">β-glycerol phosphate concentration (µM)</text>
<text x="278.8" y="257.25" font-size="8.5" text-anchor="middle" class="vl" transform="rotate(-90 278.8 257.25)" textLength="75.5" lengthAdjust="spacing">Total carbohydrate</text>
<text x="289.9" y="256.45" font-size="8.5" text-anchor="middle" class="vl" transform="rotate(-90 289.9 256.45)" textLength="117.1" lengthAdjust="spacing">synthesis rate (pg cell<tspan font-size="5.8" dy="-4.2">-1</tspan><tspan dy="4.2"> day</tspan><tspan font-size="5.8" dy="-4.2">-1</tspan><tspan dy="4.2">)</tspan></text>
<text x="482.30" y="188.00" font-size="12.6" font-weight="bold" fill="#000" class="pl">f</text>
<rect x="525.60" y="298.32" width="19.2" height="22.08" fill="#5b9bd0" stroke="#2f6894" stroke-width="0.7"/>
<rect x="557.40" y="292.24" width="19.2" height="28.16" fill="#ffa24e" stroke="#96582a" stroke-width="0.7"/>
<rect x="589.30" y="278.03" width="19.2" height="42.37" fill="#6bbd68" stroke="#2f6b2f" stroke-width="0.7"/>
<rect x="620.90" y="239.50" width="19.2" height="80.90" fill="#e06468" stroke="#8a3537" stroke-width="0.7"/>
<rect x="652.60" y="267.47" width="19.2" height="52.93" fill="#b391d3" stroke="#5c4a78" stroke-width="0.7"/>
<circle cx="535.20" cy="295.20" r="1.35" fill="#3f84c6" stroke="#1d4a72" stroke-width="0.6"/>
<circle cx="535.20" cy="296.80" r="1.35" fill="#3f84c6" stroke="#1d4a72" stroke-width="0.6"/>
<circle cx="535.20" cy="302.90" r="1.35" fill="#3f84c6" stroke="#1d4a72" stroke-width="0.6"/>
<circle cx="567.00" cy="288.00" r="1.35" fill="#f39234" stroke="#7a4414" stroke-width="0.6"/>
<circle cx="567.00" cy="289.80" r="1.35" fill="#f39234" stroke="#7a4414" stroke-width="0.6"/>
<circle cx="567.00" cy="298.70" r="1.35" fill="#f39234" stroke="#7a4414" stroke-width="0.6"/>
<circle cx="598.90" cy="275.30" r="1.35" fill="#43a043" stroke="#1f5a1f" stroke-width="0.6"/>
<circle cx="598.90" cy="277.30" r="1.35" fill="#43a043" stroke="#1f5a1f" stroke-width="0.6"/>
<circle cx="598.90" cy="283.20" r="1.35" fill="#43a043" stroke="#1f5a1f" stroke-width="0.6"/>
<circle cx="630.50" cy="233.00" r="1.35" fill="#cf3f42" stroke="#7a2022" stroke-width="0.6"/>
<circle cx="630.50" cy="239.30" r="1.35" fill="#cf3f42" stroke="#7a2022" stroke-width="0.6"/>
<circle cx="630.50" cy="245.50" r="1.35" fill="#cf3f42" stroke="#7a2022" stroke-width="0.6"/>
<circle cx="662.20" cy="260.70" r="1.35" fill="#9467bd" stroke="#4b3466" stroke-width="0.6"/>
<circle cx="662.20" cy="266.00" r="1.35" fill="#9467bd" stroke="#4b3466" stroke-width="0.6"/>
<circle cx="662.20" cy="275.30" r="1.35" fill="#9467bd" stroke="#4b3466" stroke-width="0.6"/>
<line x1="518.50" y1="194.50" x2="518.50" y2="320.50" stroke="#686868" stroke-width="1.0"/>
<line x1="518.50" y1="320.50" x2="685.00" y2="320.50" stroke="#686868" stroke-width="1.0"/>
<line x1="515.00" y1="320.40" x2="518.50" y2="320.40" stroke="#686868" stroke-width="1.0"/>
<text x="511.60" y="323.21" font-size="8.2" text-anchor="end" textLength="4.34" lengthAdjust="spacingAndGlyphs">0</text>
<line x1="515.00" y1="304.40" x2="518.50" y2="304.40" stroke="#686868" stroke-width="1.0"/>
<text x="511.60" y="307.21" font-size="8.2" text-anchor="end" textLength="10.84" lengthAdjust="spacingAndGlyphs">2.5</text>
<line x1="515.00" y1="288.40" x2="518.50" y2="288.40" stroke="#686868" stroke-width="1.0"/>
<text x="511.60" y="291.21" font-size="8.2" text-anchor="end" textLength="10.84" lengthAdjust="spacingAndGlyphs">5.0</text>
<line x1="515.00" y1="272.40" x2="518.50" y2="272.40" stroke="#686868" stroke-width="1.0"/>
<text x="511.60" y="275.21" font-size="8.2" text-anchor="end" textLength="10.84" lengthAdjust="spacingAndGlyphs">7.5</text>
<line x1="515.00" y1="256.40" x2="518.50" y2="256.40" stroke="#686868" stroke-width="1.0"/>
<text x="511.60" y="259.21" font-size="8.2" text-anchor="end" textLength="15.18" lengthAdjust="spacingAndGlyphs">10.0</text>
<line x1="515.00" y1="240.40" x2="518.50" y2="240.40" stroke="#686868" stroke-width="1.0"/>
<text x="511.60" y="243.21" font-size="8.2" text-anchor="end" textLength="15.18" lengthAdjust="spacingAndGlyphs">12.5</text>
<line x1="515.00" y1="224.40" x2="518.50" y2="224.40" stroke="#686868" stroke-width="1.0"/>
<text x="511.60" y="227.21" font-size="8.2" text-anchor="end" textLength="15.18" lengthAdjust="spacingAndGlyphs">15.0</text>
<line x1="515.00" y1="208.40" x2="518.50" y2="208.40" stroke="#686868" stroke-width="1.0"/>
<text x="511.60" y="211.21" font-size="8.2" text-anchor="end" textLength="15.18" lengthAdjust="spacingAndGlyphs">17.5</text>
<line x1="535.20" y1="320.50" x2="535.20" y2="323.90" stroke="#686868" stroke-width="1.0"/>
<line x1="567.00" y1="320.50" x2="567.00" y2="323.90" stroke="#686868" stroke-width="1.0"/>
<line x1="598.90" y1="320.50" x2="598.90" y2="323.90" stroke="#686868" stroke-width="1.0"/>
<line x1="630.60" y1="320.50" x2="630.60" y2="323.90" stroke="#686868" stroke-width="1.0"/>
<line x1="662.20" y1="320.50" x2="662.20" y2="323.90" stroke="#686868" stroke-width="1.0"/>
<text x="535.10" y="334.60" font-size="8.5" text-anchor="middle" textLength="10.50" lengthAdjust="spacingAndGlyphs">1st</text>
<text x="566.50" y="334.60" font-size="8.5" text-anchor="middle" textLength="14.70" lengthAdjust="spacingAndGlyphs">2nd</text>
<text x="598.55" y="334.60" font-size="8.5" text-anchor="middle" textLength="14.00" lengthAdjust="spacingAndGlyphs">3rd</text>
<text x="630.65" y="334.60" font-size="8.5" text-anchor="middle" textLength="13.40" lengthAdjust="spacingAndGlyphs">4th</text>
<text x="662.00" y="334.60" font-size="8.5" text-anchor="middle" textLength="23.00" lengthAdjust="spacingAndGlyphs">Semi-</text>
<text x="662.75" y="346.30" font-size="8.5" text-anchor="middle" textLength="46.00" lengthAdjust="spacingAndGlyphs">continuous</text>
<text x="490.0" y="257.9" font-size="8.5" text-anchor="middle" class="vl" transform="rotate(-90 490.0 257.9)" textLength="90.6" lengthAdjust="spacing">Fucose yield (pg cell<tspan font-size="5.8" dy="-4.2">-1</tspan><tspan dy="4.2">)</tspan></text>
<line x1="535.50" y1="210.50" x2="662.50" y2="210.50" stroke="#888" stroke-width="0.8"/>
<line x1="535.50" y1="224.30" x2="630.50" y2="224.30" stroke="#888" stroke-width="0.8"/>
<line x1="535.50" y1="237.30" x2="598.80" y2="237.30" stroke="#888" stroke-width="0.8"/>
<line x1="535.50" y1="250.00" x2="567.00" y2="250.00" stroke="#888" stroke-width="0.8"/>
<text x="598.70" y="208.50" font-size="7.0" text-anchor="middle" textLength="32.60" lengthAdjust="spacingAndGlyphs"><tspan font-style="italic">P</tspan> = 0.003</text>
<text x="583.00" y="221.00" font-size="7.0" text-anchor="middle" textLength="45.60" lengthAdjust="spacingAndGlyphs"><tspan font-style="italic">P</tspan> = 1.56 × 10<tspan font-size="4.6" dy="-2.8">−4</tspan></text>
<text x="567.10" y="234.90" font-size="7.0" text-anchor="middle" textLength="32.30" lengthAdjust="spacingAndGlyphs"><tspan font-style="italic">P</tspan> = 0.004</text>
<text x="550.90" y="248.20" font-size="7.0" text-anchor="middle" textLength="31.30" lengthAdjust="spacingAndGlyphs"><tspan font-style="italic">P</tspan> = 0.199</text>
</svg>
</body></html>
